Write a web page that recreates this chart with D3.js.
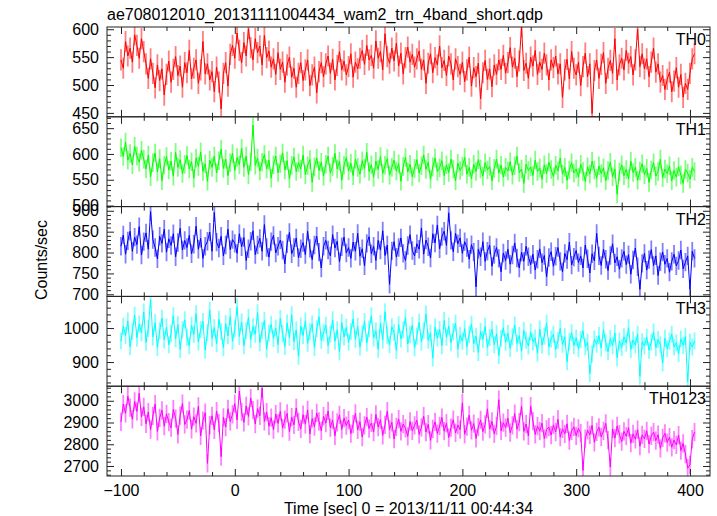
<!DOCTYPE html>
<html><head><meta charset="utf-8">
<script src="https://cdn.jsdelivr.net/npm/d3@7"></script>
<style>body{margin:0;background:#fff}svg text{font-family:"Liberation Sans",Arial,Helvetica,sans-serif}</style>
</head><body><svg id="c" width="717" height="516"></svg>
<script>
// ---- data (2 s bins starting at t = -100 s) ----
const binStart = -100, binSize = 2;
const th0 = [545,530,578,552,566,541,590,571,548,583,
560,538,512,547,521,495,536,508,529,482,
519,543,505,528,551,517,534,496,540,522,
562,511,530,545,503,527,578,520,538,509,
524,488,532,505,457,521,540,498,555,571,
548,593,562,540,576,552,601,567,545,583,
558,570,536,589,549,561,532,547,519,558,
528,541,505,536,550,514,530,496,521,540,
508,527,545,499,518,532,486,524,540,515,
538,552,521,546,509,535,560,527,543,518,
533,556,514,541,529,548,562,537,571,545,
553,530,579,548,560,527,592,551,539,566,
543,575,534,557,520,549,568,541,555,532,
547,561,528,545,503,539,556,522,549,536,
570,531,544,517,552,538,509,547,533,519,
541,506,527,550,498,531,515,539,475,522,
544,510,529,497,536,519,545,528,553,521,
540,567,532,548,515,543,604,526,539,512,
550,534,562,519,541,528,557,536,509,545,
531,552,520,538,478,527,546,511,560,530,
518,541,499,533,557,515,538,449,526,545,
512,537,558,503,530,544,521,583,509,536,
548,527,562,539,551,518,545,600,533,556,
529,547,515,541,566,523,538,505,517,492,
510,523,488,507,531,496,519,478,503,492,
521,547,556];
const th1 = [612,595,623,588,601,579,615,596,584,607,
590,571,598,556,583,602,565,591,548,578,
595,569,586,557,603,574,589,562,580,597,
571,585,553,592,576,604,566,581,547,588,
574,596,563,587,609,572,590,558,583,601,
568,593,579,611,574,596,560,585,656,578,
592,567,584,599,571,588,553,579,596,564,
581,602,569,587,552,578,594,566,583,571,
598,560,577,589,545,575,592,568,584,557,
580,596,563,576,601,571,586,549,578,593,
567,582,558,590,574,561,587,572,603,566,
579,555,586,570,595,562,578,591,559,574,
588,567,581,547,576,593,565,580,556,572,
589,563,577,598,570,584,551,575,592,566,
573,587,558,579,564,590,571,548,582,568,
576,593,561,574,552,580,566,589,571,557,
583,569,576,548,572,590,563,578,555,574,
567,585,559,577,596,564,571,543,580,568,
575,558,588,566,573,551,579,562,584,570,
556,578,567,592,561,574,549,569,583,563,
571,555,580,566,547,575,561,586,569,553,
577,562,573,548,568,584,556,571,522,565,
579,558,570,552,586,564,574,549,567,581,
560,572,545,569,583,557,566,590,554,571,
562,577,548,568,555,575,559,543,570,563,
551,574,566];
const th2 = [815,842,796,828,851,803,837,819,862,794,
826,847,808,898,831,812,785,839,822,856,
801,833,817,845,790,824,858,806,829,812,
841,797,820,863,808,834,786,815,827,849,
803,896,825,811,839,792,818,856,807,831,
822,798,845,814,836,781,809,827,852,795,
818,834,803,867,812,789,826,841,799,815,
830,806,773,821,848,797,812,835,788,809,
824,795,851,810,783,818,839,801,763,815,
829,806,792,843,811,827,778,814,837,799,
812,786,825,803,846,791,809,768,822,838,
797,815,781,829,806,852,793,818,724,804,
826,789,812,835,798,781,817,843,805,792,
821,808,859,796,830,814,787,845,823,866,
809,838,851,817,895,829,802,846,821,835,
798,826,812,784,819,801,718,808,790,826,
779,803,818,767,795,812,786,754,799,781,
808,772,794,823,787,763,801,779,815,790,
771,796,758,784,809,776,793,742,788,802,
767,791,812,779,754,798,783,825,770,789,
805,776,792,763,818,785,751,797,780,846,
792,769,808,784,757,793,821,775,790,760,
786,803,771,795,748,782,811,766,712,774,
798,758,783,807,769,792,745,778,801,772,
786,753,779,796,768,781,806,761,777,792,
712,803,786];
const th3 = [962,1005,978,1021,945,990,1038,971,1012,986,
1047,958,999,1083,974,1016,943,992,1029,965,
1003,951,984,1036,969,1010,937,995,1024,973,
948,1008,981,1042,959,996,1019,935,987,1052,
970,1001,954,1026,989,942,1013,977,1034,961,
997,1062,975,1018,948,991,1031,966,1004,982,
1045,957,993,1022,938,985,1011,969,1000,951,
1028,983,946,1015,972,1039,960,994,917,1006,
978,1021,955,989,1012,943,997,1033,964,986,
1008,949,982,1024,961,995,930,1016,974,1002,
958,990,1027,967,1005,944,983,1019,956,997,
1036,971,992,938,1013,965,1048,979,951,1004,
987,934,1010,968,995,1030,953,981,1008,942,
976,1017,959,992,1041,964,985,912,1003,970,
996,948,1022,973,1006,957,989,1014,938,979,
961,998,945,982,1011,954,976,928,990,967,
1005,943,972,996,951,983,919,969,1001,958,
985,940,974,1009,955,978,932,993,964,947,
988,959,971,926,997,950,976,1015,944,968,
982,937,963,999,952,974,901,960,986,949,
971,939,966,992,945,958,866,924,967,952,
978,941,995,956,930,969,948,985,913,962,
943,974,956,1001,937,965,950,982,858,960,
947,973,935,959,988,942,966,951,897,970,
939,961,982,944,957,925,968,949,975,842,
958,944,962];
const th0123 = [2903,2985,2942,3021,2968,2915,2997,2951,3034,2926,
2972,2894,2948,2867,2930,2985,2859,2921,2956,2883,
2940,2902,2876,2961,2918,2845,2932,2987,2891,2913,
2955,2869,2927,2896,2974,2838,2909,2945,2712,2888,
2931,2866,2952,2897,2743,2924,2879,2963,2905,2938,
2987,2912,3045,2949,2901,2976,2928,3012,2957,2893,
2964,2931,3058,2905,2948,2883,2922,2867,2939,2896,
2951,2874,2913,2942,2858,2925,2889,2967,2903,2871,
2936,2892,2958,2847,2918,2881,2944,2905,2862,2929,
2897,2953,2876,2912,2839,2901,2935,2868,2920,2886,
2911,2849,2893,2942,2866,2904,2833,2887,2925,2872,
2898,2856,2937,2879,2913,2841,2889,2952,2868,2901,
2824,2880,2916,2859,2893,2873,2836,2905,2862,2887,
2911,2845,2878,2929,2856,2892,2818,2871,2903,2849,
2884,2923,2860,2897,2831,2876,2913,2852,2888,2867,
2990,2846,2881,2934,2864,2895,2827,2879,2912,2858,
2891,2963,2870,2905,2848,2884,3005,2862,2899,2876,
2920,2853,2887,2941,2869,2902,2975,2859,2893,2838,
2975,2906,2845,2883,2860,2897,2826,2868,2879,2842,
2889,2856,2915,2833,2871,2848,2894,2817,2862,2880,
2839,2873,2851,2680,2826,2864,2843,2887,2809,2857,
2878,2834,2862,2896,2819,2695,2871,2828,2884,2846,
2812,2859,2837,2876,2805,2848,2823,2867,2791,2843,
2825,2862,2801,2838,2856,2817,2844,2781,2829,2850,
2808,2833,2786,2819,2797,2842,2771,2804,2755,2690,
2705,2823,2856];

const seriesNames  = ["TH0", "TH1", "TH2", "TH3", "TH0123"];
const seriesValues = [th0, th1, th2, th3, th0123];
const seriesErrors = [19, 18, 22, 25, 42];
const seriesColors = ["#ff0000", "#00ff00", "#0000ff", "#00ffff", "#ff00ff"];
const yDomains = [[443, 604], [498, 672], [695, 910], [829, 1093], [2654, 3067]];
const yMajorStep = [50, 50, 50, 100, 100];
const yMinorStep = [10, 10, 10, 20, 20];
const xDomain = [-112.3, 417.6];
const xMajorTicks = [-100, 0, 100, 200, 300, 400];
const xMinorStep = 20;

const title = "ae708012010_20131111004434_wam2_trn_4band_short.qdp";
const xLabel = "Time [sec] 0 = 2013/11/11 00:44:34";
const yLabel = "Counts/sec";

// ---- layout ----
const L = 107, R = 710, T = 27, B = 476;
const ph = (B - T) / seriesNames.length;
const svg = d3.select("#c");
const x = d3.scaleLinear().domain(xDomain).range([L, R]);
const xMinor = d3.range(-100, 420, xMinorStep).filter(v => !xMajorTicks.includes(v) && v >= xDomain[0] && v <= xDomain[1]);

svg.append("text").attr("x", L).attr("y", 20).attr("font-size", 16).text(title);

seriesNames.forEach((name, k) => {
  const top = T + k * ph, bot = top + ph;
  const y = d3.scaleLinear().domain(yDomains[k]).range([bot, top]);
  const vals = seriesValues[k];
  const pts = vals.map((v, i) => ({ t: binStart + i * binSize, v }));
  const err = seriesErrors[k];
  const col = seriesColors[k];

  const clipId = "clip" + k;
  svg.append("clipPath").attr("id", clipId).append("rect")
    .attr("x", L).attr("y", top).attr("width", R - L).attr("height", ph);
  const g = svg.append("g").attr("clip-path", `url(#${clipId})`);

  g.append("g").selectAll("line").data(pts).join("line")
    .attr("x1", d => x(d.t)).attr("x2", d => x(d.t))
    .attr("y1", d => y(d.v - err)).attr("y2", d => y(d.v + err))
    .attr("stroke", col).attr("stroke-opacity", 0.5).attr("stroke-width", 1.8);
  g.append("path").datum(pts)
    .attr("d", d3.line().x(d => x(d.t)).y(d => y(d.v)))
    .attr("fill", "none").attr("stroke", col).attr("stroke-width", 1);

  // y ticks
  const [lo, hi] = yDomains[k];
  const maj = d3.range(Math.ceil(lo / yMajorStep[k]) * yMajorStep[k], hi + 0.001, yMajorStep[k]);
  const mnr = d3.range(Math.ceil(lo / yMinorStep[k]) * yMinorStep[k], hi + 0.001, yMinorStep[k]).filter(v => v % yMajorStep[k] !== 0);
  const ax = svg.append("g").attr("transform", `translate(${L},0)`)
    .call(d3.axisLeft(y).tickValues(maj).tickSize(-7).tickPadding(8).tickFormat(d3.format("d")));
  ax.select(".domain").remove();
  ax.selectAll("text").attr("font-size", 16).attr("fill", "#000").attr("font-family", null);
  ax.selectAll("line").attr("stroke", "#222");
  const axm = svg.append("g").attr("transform", `translate(${L},0)`)
    .call(d3.axisLeft(y).tickValues(mnr).tickSize(-4).tickFormat(""));
  axm.select(".domain").remove(); axm.selectAll("line").attr("stroke", "#222");
  const ar = svg.append("g").attr("transform", `translate(${R},0)`)
    .call(d3.axisRight(y).tickValues(maj).tickSize(-7).tickFormat(""));
  ar.select(".domain").remove(); ar.selectAll("line").attr("stroke", "#222");
  const arm = svg.append("g").attr("transform", `translate(${R},0)`)
    .call(d3.axisRight(y).tickValues(mnr).tickSize(-4).tickFormat(""));
  arm.select(".domain").remove(); arm.selectAll("line").attr("stroke", "#222");

  // x ticks top & bottom
  [[top, d3.axisTop], [bot, d3.axisBottom]].forEach(([yy, fn]) => {
    const a = svg.append("g").attr("transform", `translate(0,${yy})`)
      .call(fn(x).tickValues(xMajorTicks).tickSize(-7).tickFormat(""));
    a.select(".domain").remove(); a.selectAll("line").attr("stroke", "#222");
    const b = svg.append("g").attr("transform", `translate(0,${yy})`)
      .call(fn(x).tickValues(xMinor).tickSize(-4).tickFormat(""));
    b.select(".domain").remove(); b.selectAll("line").attr("stroke", "#222");
  });

  svg.append("rect").attr("x", L).attr("y", top).attr("width", R - L).attr("height", ph)
    .attr("fill", "none").attr("stroke", "#222").attr("stroke-width", 1);

  svg.append("text").attr("x", R - 4).attr("y", top + 18).attr("text-anchor", "end")
    .attr("font-size", 16).text(name);
});

// bottom x labels
const xa = svg.append("g").attr("transform", `translate(0,${B})`)
  .call(d3.axisBottom(x).tickValues(xMajorTicks).tickSize(0).tickPadding(9).tickFormat(d3.format("d")));
xa.select(".domain").remove();
xa.selectAll("text").attr("font-size", 16).attr("fill", "#000").attr("font-family", null);

svg.append("text").attr("x", (L + R) / 2).attr("y", 514).attr("text-anchor", "middle")
  .attr("font-size", 16).text(xLabel);
svg.append("text").attr("transform", `translate(47,260) rotate(-90)`).attr("text-anchor", "middle")
  .attr("font-size", 16).text(yLabel);
</script></body></html>
